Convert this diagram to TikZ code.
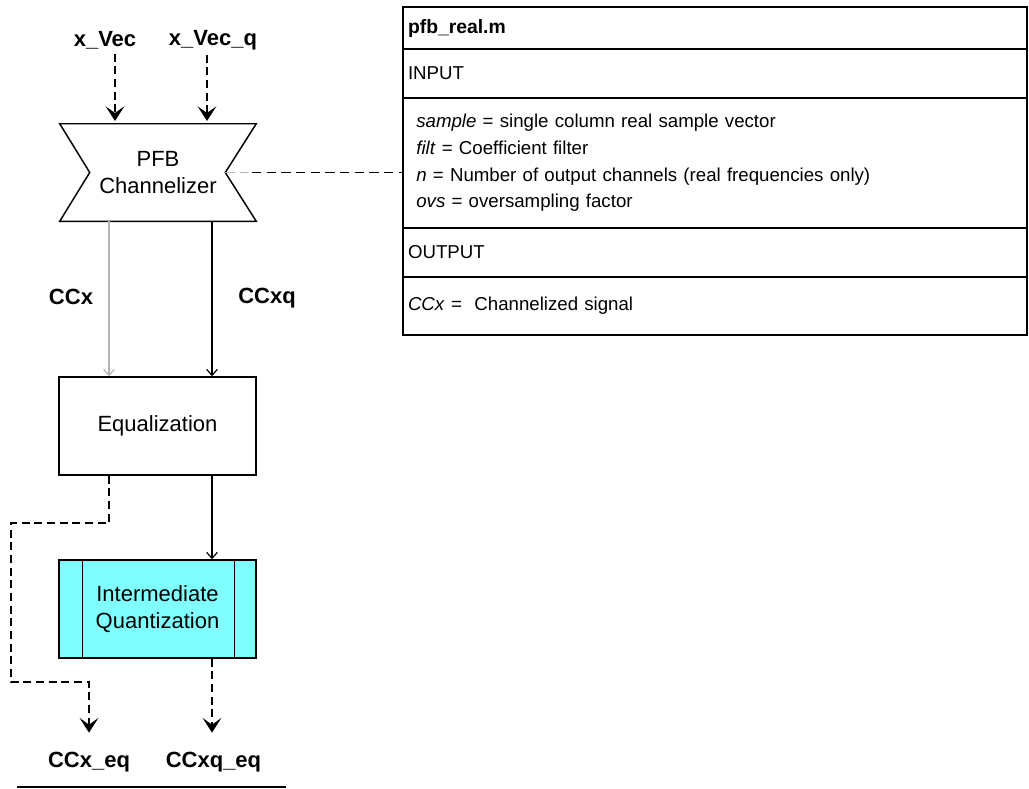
\documentclass[tikz,border=0pt]{standalone}
\usepackage{fontspec}
\setmainfont{Liberation Sans}
\usetikzlibrary{calc}
\usetikzlibrary{positioning}
\usetikzlibrary{arrows.meta}
\definecolor{quantcyan}{RGB}{128,255,255}
\definecolor{wiregray}{RGB}{180,180,180}

\begin{document}
\begin{tikzpicture}[x=0.75pt,y=-0.75pt,
  blocklabel/.style={font=\fontsize{16.5}{20}\selectfont, align=center},
  sig/.style={font=\fontsize{16.5}{20}\selectfont\bfseries},
  blockbox/.style={draw, line width=1.1pt, minimum width=147.75pt, minimum height=73.5pt, blocklabel},
  dasharrow/.style={dash pattern=on 6pt off 3.5pt, line width=1.4pt, -{Stealth[length=11pt,width=14pt,inset=5pt]}},
  thinarrow/.style={line width=0.9pt, -{Straight Barb[length=4.5pt,width=8pt]}},
  dashline/.style={dash pattern=on 7pt off 4pt, line width=1.1pt},
  tablerow/.style={draw, line width=1.3pt, anchor=north west, text width=460.5pt, inner xsep=3.75pt, inner ysep=0pt, outer sep=0pt, align=left, font=\fontsize{14}{20}\selectfont}
]
\useasboundingbox (0,0) rectangle (1029,789);

% inputs
\node[sig] (xvec) at (105,40) {x\_Vec};
\node[sig] (xvecq) at (213,40) {x\_Vec\_q};
\coordinate (in1) at (115,121);
\coordinate (in2) at (207,121);

% channelizer (bowtie)
\node[blocklabel, minimum width=147pt, minimum height=72.75pt, inner sep=0pt] (pfb) at (158,172.5) {PFB\\Channelizer};
\coordinate (pfbl) at ($(pfb.west)+(30,0)$);
\coordinate (pfbr) at ($(pfb.east)+(-31,0)$);
\draw[line width=1.1pt] (pfb.north west) -- (pfb.north east) -- (pfbr) -- (pfb.south east)
  -- (pfb.south west) -- (pfbl) -- cycle;

\draw[dasharrow] (xvec.south -| in1) -- (in1);
\draw[dasharrow] (xvecq.south -| in2) -- (in2);

% blocks
\node[blockbox] (eq) at (157.5,426) {Equalization};
\node[blockbox, fill=quantcyan] (iq) at (157.5,609) {Intermediate\\Quantization};
\draw[line width=1.1pt] ([xshift=18pt]iq.north west) -- ([xshift=18pt]iq.south west);
\draw[line width=1.1pt] ([xshift=-16.5pt]iq.north east) -- ([xshift=-16.5pt]iq.south east);

\coordinate (lx) at (109,0);
\coordinate (rx) at (212,0);

\draw[thinarrow, wiregray] (pfb.south -| lx) -- (eq.north -| lx);
\draw[thinarrow] (pfb.south -| rx) -- (eq.north -| rx);
\node[sig] (ccx) at (71,297) {CCx};
\node[sig] (ccxq) at (267,298) {CCxq};

\draw[thinarrow] (eq.south -| rx) -- (iq.north -| rx);

% outputs
\node[sig] (ccxeq) at (89,762) {CCx\_eq};
\node[sig] (ccxqeq) at (213.5,762) {CCxq\_eq};
\coordinate (c1) at (11,523);
\coordinate (c2) at (11,682);
\draw[dasharrow] (eq.south -| lx) |- (c1) -- (c2) -| ([yshift=11pt]ccxeq.north);
\draw[dasharrow] (iq.south -| rx) -- ([yshift=11pt]ccxqeq.north -| rx);
\draw[line width=1.5pt] (17,787) -- (286,787);

% function table
\node[tablerow, minimum height=31.5pt, font=\fontsize{14.5}{20}\selectfont\bfseries] (hdr) at (403,7) {pfb\_real.m};
\node[tablerow, minimum height=36.75pt, below=0pt of hdr] (inp) {INPUT};
\node[tablerow, minimum height=97.5pt, below=0pt of inp, text width=448pt, inner xsep=10pt] (args)
  {\textit{sample} = single column real sample vector\\
   \textit{filt} = Coefficient filter\\
   \textit{n} = Number of output channels (real frequencies only)\\
   \textit{ovs} = oversampling factor};
\node[tablerow, minimum height=36.75pt, below=0pt of args] (outp) {OUTPUT};
\node[tablerow, minimum height=43.5pt, below=0pt of outp] (res) {\textit{CCx} =\ \ Channelized signal};

\coordinate (gx) at (252,0);
\draw[dashline, wiregray] (pfbr) -- (pfbr -| gx);
\draw[dashline] (pfbr -| gx) -- (pfbr -| args.west);
\end{tikzpicture}
\end{document}
